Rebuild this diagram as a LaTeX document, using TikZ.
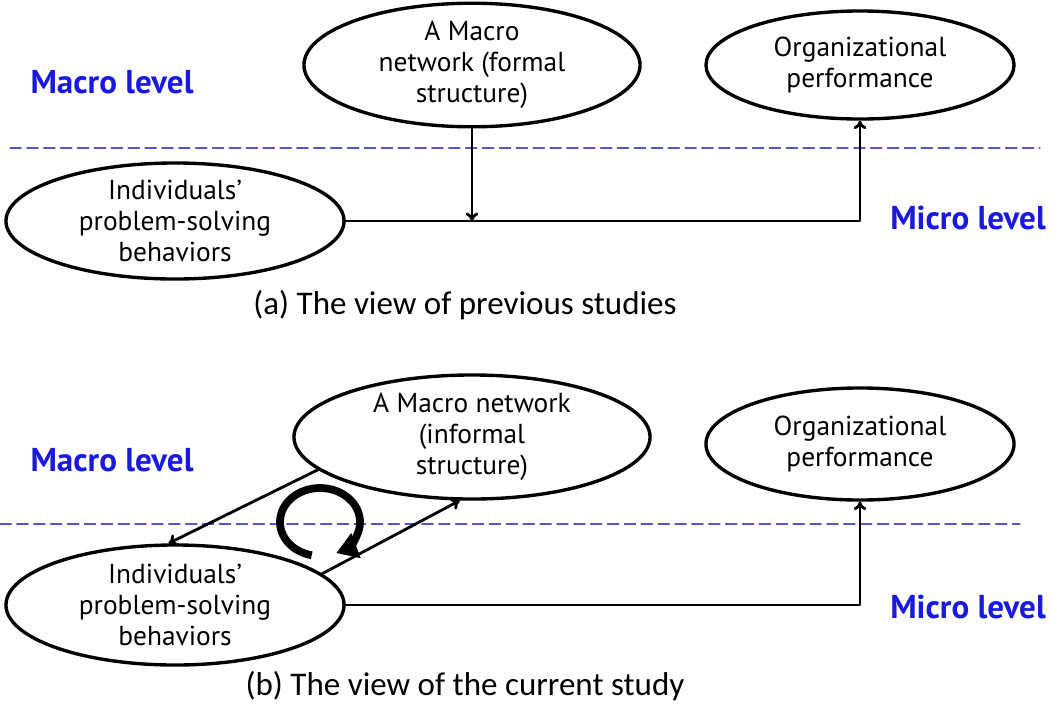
\documentclass[tikz,border=0pt]{standalone}
\usepackage{fontspec}
\setmainfont{PT Sans}
\newfontfamily\capfont{Carlito}
\usetikzlibrary{arrows,arrows.meta,calc,positioning,shapes.geometric}
\definecolor{lvlblue}{RGB}{25,25,225}
\definecolor{splitblue}{RGB}{85,85,205}

\begin{document}
\begin{tikzpicture}[x=0.025cm,y=-0.025cm,line join=round,line cap=round,>=to,thick]
\tikzset{oval/.style={ellipse,draw,line width=2.4pt,align=center,inner sep=0pt,
    font=\fontsize{19.5}{22}\selectfont},
  lvl/.style={text=lvlblue,font=\fontsize{23.5}{26}\selectfont\bfseries},
  caption/.style={font=\capfont\fontsize{23.5}{27}\selectfont},
  split/.style={splitblue,line width=0.9pt,dash pattern=on 8pt off 4pt},
  link/.style={-{To[length=6pt,width=9pt]},line width=2pt},
  turn/.style={-{Triangle[length=15pt,width=18pt]},line width=5.5pt,line cap=butt}}
\useasboundingbox (0,0) rectangle (1053,706);

% (a) previous studies
\draw[split] (10,148)--(1040,148);
\node[oval,minimum width=8.4cm,minimum height=2.75cm] (net1) at (472,65) {A Macro\\network (formal\\structure)};
\node[oval,minimum width=7.7cm,minimum height=2.7cm] (perf1) at (860,65) {Organizational\\performance};
\node[oval,minimum width=8.45cm,minimum height=2.9cm] (ind1) at (175,221) {Individuals’\\problem-solving\\behaviors};
\node[lvl] (mac1) at (112,82) {Macro level};
\node[lvl] (mic1) at (968,218) {Micro level};
\node[caption] (capa) at (465,305) {(a) The view of previous studies};
\draw[link] (ind1.east) -| (perf1.south);
\draw[link] (net1.south) -- (net1.south |- ind1.east);

% (b) current study
\draw[split] (0,524)--(1020,524);
\node[oval,minimum width=8.9cm,minimum height=3.1cm] (net2) at (472,437) {A Macro network\\(informal\\structure)};
\node[oval,minimum width=7.7cm,minimum height=2.8cm] (perf2) at (860,444) {Organizational\\performance};
\node[oval,minimum width=8.45cm,minimum height=3cm] (ind2) at (175,605) {Individuals’\\problem-solving\\behaviors};
\node[lvl] (mac2) at (112,460) {Macro level};
\node[lvl] (mic2) at (968,607) {Micro level};
\node[caption] (capb) at (465,686) {(b) The view of the current study};
\draw[link] (ind2.east) -| (perf2.south);
\draw[link] (net2.192) -- (ind2.96);
\draw[link] (ind2.12) -- (net2.259);
\coordinate (cyc) at (320,522);
\draw[turn] (cyc) ++(258:1.0cm and 0.85cm) arc[start angle=258,end angle=-66,x radius=1.0cm,y radius=0.85cm];
\end{tikzpicture}
\end{document}
